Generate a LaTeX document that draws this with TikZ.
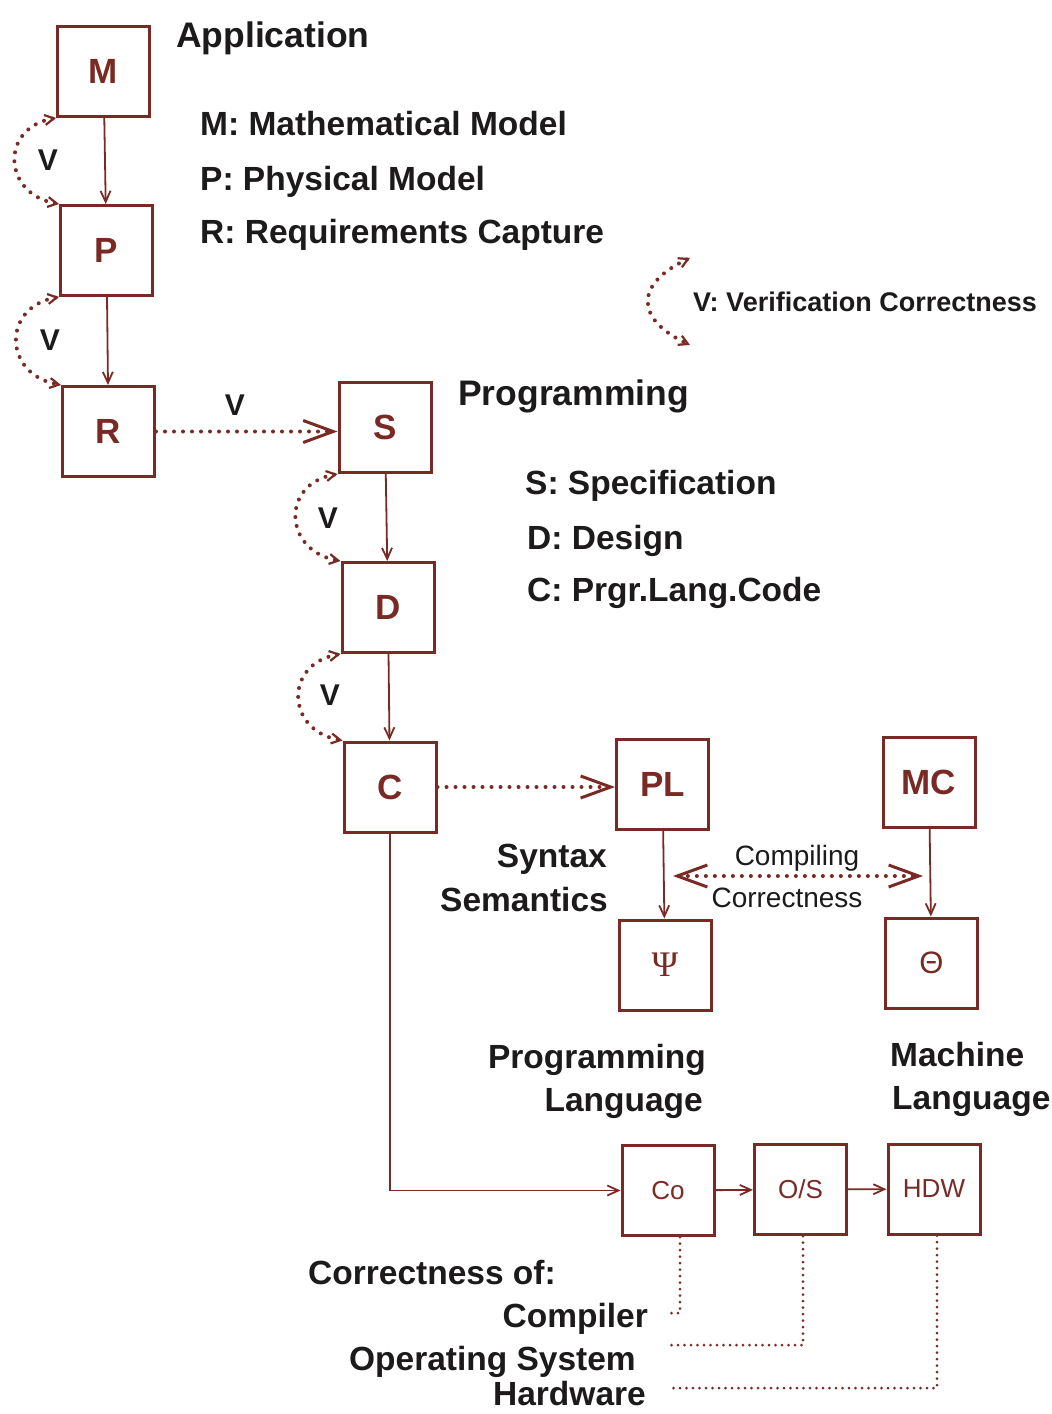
\documentclass[tikz,border=0pt]{standalone}
\usepackage{fontspec}
\setmainfont{Liberation Sans}
\newfontfamily\psifont{Liberation Serif}
\usetikzlibrary{arrows.meta}
\definecolor{boxred}{RGB}{122,42,36}
\definecolor{ink}{RGB}{28,26,26}
\begin{document}
\begin{tikzpicture}[x=1pt,y=1pt,
  box/.style={draw=boxred, line width=3pt, minimum width=92pt, minimum height=90pt, inner sep=0pt, text=boxred, font=\fontsize{35}{37}\selectfont\bfseries},
  smallbox/.style={box, font=\fontsize{26}{30}\selectfont},
  flow/.style={draw=boxred, line width=1.8pt, -{Straight Barb[length=11pt,width=10pt,line width=1.8pt]}},
  vdots/.style={draw=boxred, line width=4pt, line cap=round, dash pattern=on 0pt off 9pt},
  finedots/.style={draw=boxred, line width=3pt, line cap=round, dash pattern=on 0pt off 6.5pt},
  smallbarb/.tip={Straight Barb[length=9pt,width=10pt,line width=2.2pt]},
  bigbarb/.tip={Straight Barb[length=30pt,width=22pt,line width=3pt]},
  varc/.style={vdots, smallbarb-smallbarb},
  lab/.style={text=ink, inner sep=0pt, font=\fontsize{33.5}{36}\selectfont\bfseries},
  head/.style={lab, font=\fontsize{35.5}{38}\selectfont\bfseries},
  note/.style={text=ink, inner sep=0pt, font=\fontsize{28}{32}\selectfont},
  vlab/.style={lab, font=\fontsize{30}{32}\selectfont\bfseries}
]
\useasboundingbox (0,0) rectangle (1052,-1414);

% boxes
\node[box] (M) at (103.5,-71.5) {M};
\node[box] (P) at (106.5,-250.5) {P};
\node[box] (R) at (108.5,-431.5) {R};
\node[box] (S) at (385,-427.5) {S};
\node[box] (D) at (388,-607.5) {D};
\node[box] (C) at (390,-787) {C};
\node[box] (PL) at (662.5,-784) {PL};
\node[box] (MC) at (929,-782.5) {MC};
\node[smallbox, font=\fontsize{36}{38}\selectfont\psifont] (Psi) at (665,-965) {Ψ};
\node[smallbox, font=\fontsize{31}{34}\selectfont] (Theta) at (931.5,-963) {Θ};
\node[smallbox] (Co) at (668,-1190.5) {Co};
\node[smallbox] (OS) at (800.5,-1189.5) {O/S};
\node[smallbox] (HDW) at (934,-1189) {HDW};

% headings and legends
\node[head, anchor=base west] (app) at (176,-47) {Application};
\node[lab, anchor=base west] (lm) at (200,-135) {M: Mathematical Model};
\node[lab, anchor=base west] (lp) at (200,-190) {P: Physical Model};
\node[lab, anchor=base west] (lr) at (200,-243) {R: Requirements Capture};
\node[head, anchor=base west] (prog) at (458,-405) {Programming};
\node[lab, anchor=base west] (ls) at (525,-494) {S: Specification};
\node[lab, anchor=base west] (ld) at (527,-549) {D: Design};
\node[lab, anchor=base west] (lc) at (527,-601) {C: Prgr.Lang.Code};
\node[lab, anchor=base west, font=\fontsize{27}{30}\selectfont\bfseries] (lv) at (693,-311) {V: Verification Correctness};

\node[lab, anchor=base east] (syn) at (607,-867) {Syntax};
\node[lab, anchor=base east] (sem) at (608,-911) {Semantics};
\node[note, anchor=base] (comp1) at (797,-865) {Compiling};
\node[note, anchor=base] (comp2) at (787,-907) {Correctness};
\node[lab, anchor=base east] (pl1) at (706,-1068) {Programming};
\node[lab, anchor=base east] (pl2) at (703,-1111) {Language};
\node[lab, anchor=base west] (ml1) at (890,-1066) {Machine};
\node[lab, anchor=base west] (ml2) at (892,-1109) {Language};
\node[lab, anchor=base west] (cof) at (308,-1284) {Correctness of:};
\node[lab, anchor=base east] (ccomp) at (648,-1327) {Compiler};
\node[lab, anchor=base east] (cos) at (636,-1370) {Operating System};
\node[lab, anchor=base east] (chw) at (646,-1405) {Hardware};

% V labels
\node[vlab] (v1) at (48,-160) {V};
\node[vlab] (v2) at (50,-340) {V};
\node[vlab] (v3) at (235,-405) {V};
\node[vlab] (v4) at (328,-518) {V};
\node[vlab] (v5) at (330,-695) {V};

% solid flows
\draw[flow] (M) -- (P);
\draw[flow] (P) -- (R);
\draw[flow] (S) -- (D);
\draw[flow] (D) -- (C);
\draw[flow] (PL) -- (Psi);
\draw[flow] (MC) -- (Theta);
\draw[flow] (C.south) |- (Co.west);
\draw[flow] (Co) -- (OS);
\draw[flow] (OS) -- (HDW);

% verification arcs
\draw[varc] (M.south west) to[out=190,in=170,looseness=1.7] (P.north west);
\draw[varc] (P.south west) to[out=190,in=170,looseness=1.7] (R.north west);
\draw[varc] (S.south west) to[out=190,in=170,looseness=1.7] (D.north west);
\draw[varc] (D.south west) to[out=190,in=170,looseness=1.7] (C.north west);
\coordinate (la) at (690,-258);
\coordinate (lb) at (690,-345);
\draw[varc] (la) to[out=205,in=155,looseness=1.8] (lb);

% dotted big arrows
\draw[vdots, -bigbarb] (R) -- (S.west |- R);
\draw[vdots, -bigbarb] (C) -- (PL.west |- C);
\coordinate (cl) at (673,-876);
\coordinate (cr) at (923,-876);
\draw[vdots, bigbarb-bigbarb] (cl) -- (cr);

% correctness dotted leaders
\coordinate (ec) at (670,-1313);
\coordinate (eo) at (670,-1345);
\coordinate (eh) at (670,-1388);
\draw[finedots] ([xshift=12pt]Co.south) |- (ec);
\draw[finedots] ([xshift=2.5pt]OS.south) |- (eo);
\draw[finedots] ([xshift=3pt]HDW.south) |- (eh);
\end{tikzpicture}
\end{document}
